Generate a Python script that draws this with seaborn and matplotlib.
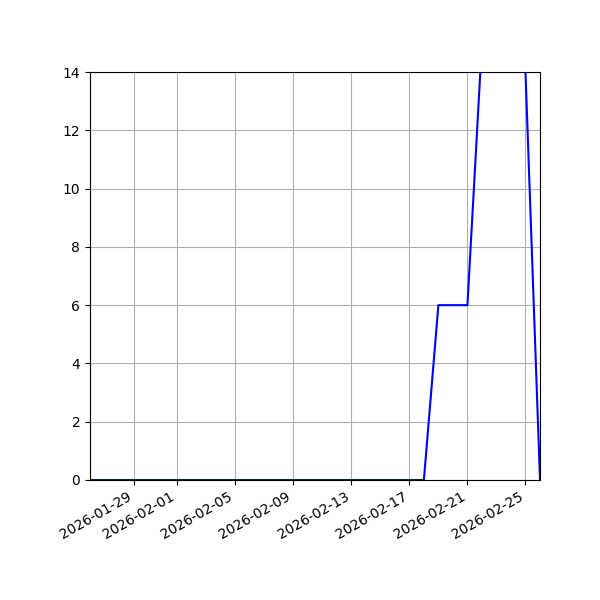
import pandas as pd
import matplotlib
matplotlib.use("Agg")
import matplotlib.pyplot as plt
import seaborn as sns

# daily counts, 2026-01-26 .. 2026-02-26
start_date = "2026-01-26"
end_date = "2026-02-26"
counts = [0, 0, 0, 0, 0, 0, 0, 0, 0, 0,
          0, 0, 0, 0, 0, 0, 0, 0, 0, 0,
          0, 0, 0, 0, 6, 6, 6, 15, 20, 18,
          14, 0]

dates = pd.date_range(start_date, end_date, freq="D")
df = pd.DataFrame({"date": dates, "count": counts})

fig, ax = plt.subplots(figsize=(6, 6), dpi=100)
sns.lineplot(data=df, x="date", y="count", color="blue", ax=ax)
ax.set_xlim(dates[0], dates[-1])
ax.set_ylim(0, 14)
ax.set_xlabel("")
ax.set_ylabel("")
ax.grid(True)
fig.autofmt_xdate()
fig.subplots_adjust(left=0.15)
fig.savefig("out.png")
